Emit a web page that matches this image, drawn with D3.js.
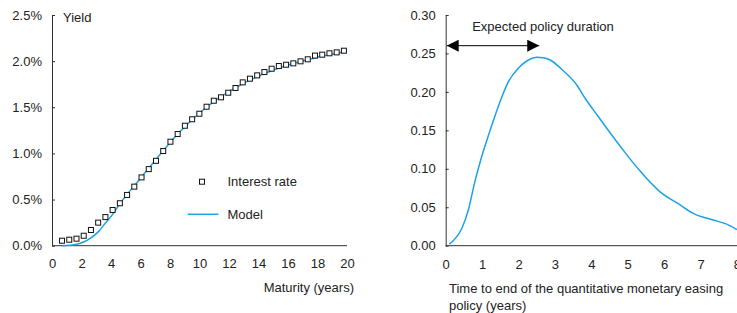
<!DOCTYPE html>
<html>
<head>
<meta charset="utf-8">
<script src="https://cdn.jsdelivr.net/npm/d3@7"></script>
<style>
  body { margin: 0; background: #fff; }
  svg { display: block; font-family: "Liberation Sans", Arial, sans-serif; }
  .axis path, .axis line { stroke: #333; }
  .axis text { fill: #222; font-size: 13px; font-family: "Liberation Sans", Arial, sans-serif; }
  .lbl { fill: #222; font-size: 13px; }
</style>
</head>
<body>
<div id="chart"></div>
<script>
//left panel: yield curve, maturities in years
var maturities = [0.68, 1.17, 1.66, 2.15, 2.64, 3.13, 3.62, 4.11, 4.60, 5.09,
    5.58, 6.07, 6.56, 7.05, 7.54, 8.03, 8.52, 9.01, 9.50, 9.99,
    10.48, 10.97, 11.46, 11.95, 12.44, 12.93, 13.42, 13.91, 14.40, 14.89,
    15.38, 15.87, 16.36, 16.85, 17.34, 17.83, 18.32, 18.81, 19.30, 19.79];
//observed interest rate (%)
var interestRate = [0.054, 0.065, 0.076, 0.108, 0.17, 0.25, 0.31, 0.387, 0.46, 0.55,
    0.64, 0.74, 0.83, 0.92, 1.026, 1.127, 1.21, 1.30, 1.37, 1.43,
    1.506, 1.571, 1.608, 1.658, 1.709, 1.77, 1.81, 1.846, 1.882, 1.918,
    1.947, 1.961, 1.976, 1.998, 2.02, 2.06, 2.07, 2.085, 2.095, 2.113];
//model fitted yield (%)
var modelRate = [0.00, 0.005, 0.015, 0.04, 0.085, 0.15, 0.245, 0.34, 0.455, 0.555,
    0.65, 0.745, 0.84, 0.935, 1.03, 1.12, 1.21, 1.29, 1.365, 1.435,
    1.50, 1.56, 1.615, 1.665, 1.71, 1.755, 1.795, 1.83, 1.865, 1.895,
    1.925, 1.95, 1.975, 1.995, 2.015, 2.035, 2.055, 2.07, 2.085, 2.10];
var yieldTicks = [0, 0.5, 1.0, 1.5, 2.0, 2.5];
var maturityTicks = [0, 2, 4, 6, 8, 10, 12, 14, 16, 18, 20];

//right panel: distribution of time to end of easing policy
var timeToEnd = [0.1, 0.21, 0.44, 0.62, 0.8, 0.99, 1.22, 1.49, 1.72, 2.0,
    2.27, 2.5, 2.68, 2.87, 3.23, 3.6, 3.83, 4.19, 4.56, 4.93,
    5.34, 5.89, 6.44, 6.8, 7.35, 7.72, 8.0];
var density = [0.002, 0.0065, 0.022, 0.046, 0.083, 0.116, 0.150, 0.187, 0.213, 0.231,
    0.2415, 0.245, 0.2445, 0.2415, 0.2275, 0.209, 0.1917, 0.168, 0.144, 0.121,
    0.097, 0.070, 0.053, 0.042, 0.0334, 0.028, 0.021];
var densityTicks = [0, 0.05, 0.10, 0.15, 0.20, 0.25, 0.30];
var timeTicks = [0, 1, 2, 3, 4, 5, 6, 7, 8];
var policyDuration = [0, 2.57];

var blue = "#1aa3e8";

var svg = d3.select("#chart").append("svg")
    .attr("width", 737)
    .attr("height", 313);

// ---------- left panel ----------
var left = {x0: 52, x1: 347, y0: 245.7, y1: 15};
var xL = d3.scaleLinear().domain([0, 20]).range([left.x0, left.x1]);
var yL = d3.scaleLinear().domain([0, 2.5]).range([left.y0, left.y1]);

var gL = svg.append("g");

gL.append("g")
    .attr("class", "axis")
    .attr("transform", `translate(0, ${left.y0})`)
    .call(d3.axisBottom(xL).tickValues(maturityTicks).tickSize(0).tickPadding(13).tickSizeOuter(0))
    .call(g => g.select(".domain").attr("d", `M${left.x0},0H${left.x1}`));

gL.append("g")
    .attr("class", "axis")
    .attr("transform", `translate(${left.x0}, 0)`)
    .call(d3.axisLeft(yL).tickValues(yieldTicks).tickSize(-3).tickPadding(10).tickSizeOuter(0)
        .tickFormat(d => d3.format(".1f")(d) + "%"));

gL.append("text").attr("class", "lbl")
    .attr("x", 63).attr("y", 21.5)
    .text("Yield");

gL.append("text").attr("class", "lbl")
    .attr("x", 354).attr("y", 292)
    .attr("text-anchor", "end")
    .text("Maturity (years)");

var modelLine = d3.line()
    .x((d, i) => xL(maturities[i]))
    .y(d => yL(d))
    .curve(d3.curveMonotoneX);

gL.append("path")
    .datum(modelRate)
    .attr("d", modelLine)
    .attr("fill", "none")
    .attr("stroke", blue)
    .attr("stroke-width", 1.5);

gL.selectAll(".sq")
    .data(interestRate)
    .enter()
    .append("rect")
    .attr("class", "sq")
    .attr("x", (d, i) => xL(maturities[i]) - 2.5)
    .attr("y", d => yL(d) - 2.5)
    .attr("width", 5)
    .attr("height", 5)
    .attr("fill", "#fff")
    .attr("stroke", "#111")
    .attr("stroke-width", 1);

//legend
gL.append("rect")
    .attr("x", 199.5).attr("y", 179.2)
    .attr("width", 5).attr("height", 5)
    .attr("fill", "#fff").attr("stroke", "#111");
gL.append("text").attr("class", "lbl")
    .attr("x", 227.5).attr("y", 186.3)
    .text("Interest rate");
gL.append("line")
    .attr("x1", 187.7).attr("x2", 218.3)
    .attr("y1", 214.3).attr("y2", 214.3)
    .attr("stroke", blue).attr("stroke-width", 1.5);
gL.append("text").attr("class", "lbl")
    .attr("x", 227.5).attr("y", 218.8)
    .text("Model");

// ---------- right panel ----------
var right = {x0: 445.7, x1: 736.9, y0: 245.7, y1: 15};
var xR = d3.scaleLinear().domain([0, 8]).range([right.x0, right.x1]);
var yR = d3.scaleLinear().domain([0, 0.30]).range([right.y0, right.y1]);

var gR = svg.append("g");

gR.append("g")
    .attr("class", "axis")
    .attr("transform", `translate(0, ${right.y0})`)
    .call(d3.axisBottom(xR).tickValues(timeTicks).tickSize(0).tickPadding(14).tickSizeOuter(0))
    .call(g => g.select(".domain").attr("d", `M${right.x0},0H${right.x1 + 5}`));

gR.append("g")
    .attr("class", "axis")
    .attr("transform", `translate(${right.x0}, 0)`)
    .call(d3.axisLeft(yR).tickValues(densityTicks).tickSize(-3).tickPadding(10).tickSizeOuter(0)
        .tickFormat(d3.format(".2f")));

gR.append("path")
    .datum(density)
    .attr("d", d3.line()
        .x((d, i) => xR(timeToEnd[i]))
        .y(d => yR(d))
        .curve(d3.curveMonotoneX))
    .attr("fill", "none")
    .attr("stroke", blue)
    .attr("stroke-width", 1.5);

//arrow for expected policy duration
var defs = svg.append("defs");
defs.append("marker")
    .attr("id", "head")
    .attr("viewBox", "0 0 12 12")
    .attr("refX", 12).attr("refY", 6)
    .attr("markerWidth", 12).attr("markerHeight", 12)
    .attr("markerUnits", "userSpaceOnUse")
    .attr("orient", "auto-start-reverse")
    .append("path")
    .attr("d", "M0,0L12,6L0,12Z")
    .attr("fill", "#000");

var arrowY = 45.7;
gR.append("line")
    .attr("x1", xR(policyDuration[0]) + 1).attr("x2", xR(policyDuration[1]))
    .attr("y1", arrowY).attr("y2", arrowY)
    .attr("stroke", "#000").attr("stroke-width", 1)
    .attr("marker-start", "url(#head)")
    .attr("marker-end", "url(#head)");

gR.append("text").attr("class", "lbl")
    .attr("x", 543).attr("y", 30.5)
    .attr("text-anchor", "middle")
    .text("Expected policy duration");

gR.append("text").attr("class", "lbl")
    .attr("x", 449).attr("y", 292.5)
    .text("Time to end of the quantitative monetary easing");
gR.append("text").attr("class", "lbl")
    .attr("x", 449).attr("y", 309.5)
    .text("policy (years)");
</script>
</body>
</html>
